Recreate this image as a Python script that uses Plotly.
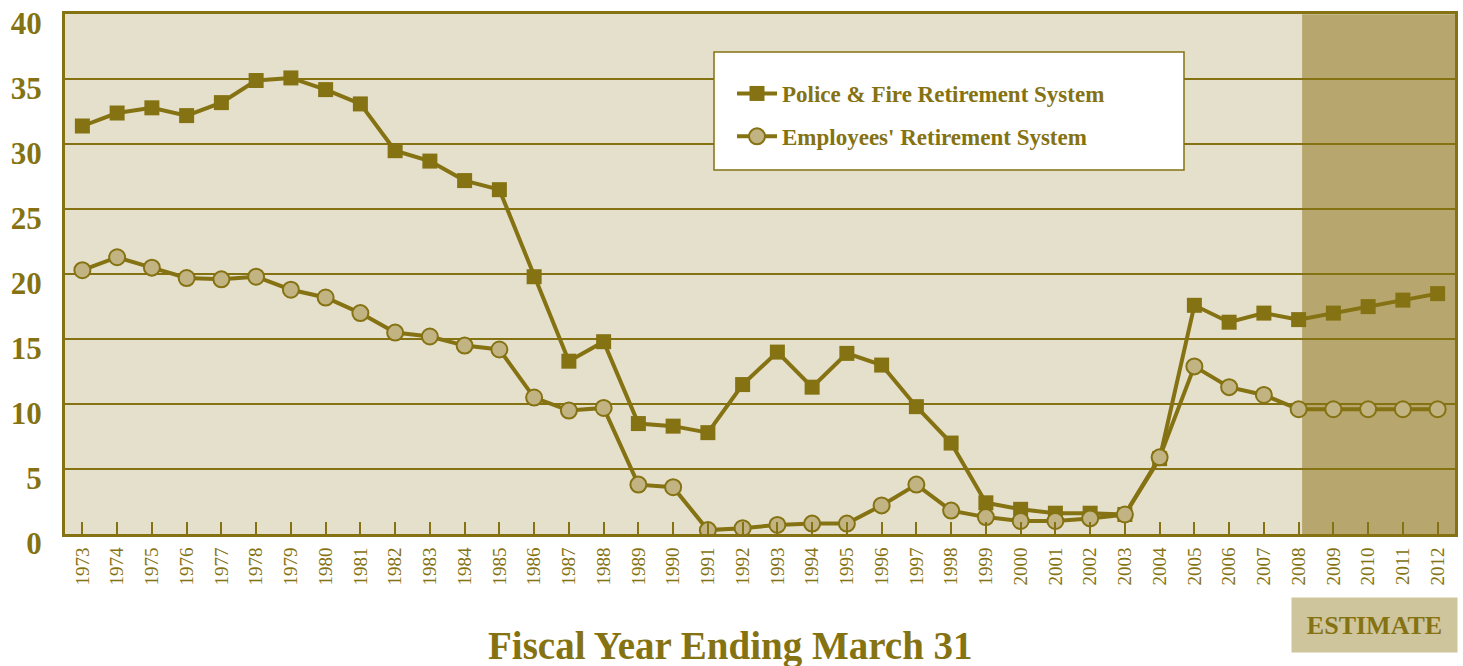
import plotly.graph_objects as go

years = list(range(1973, 2013))
police_fire = [31.4, 32.4, 32.8, 32.2, 33.2, 34.9, 35.1, 34.2, 33.1, 29.5,
               28.7, 27.2, 26.5, 19.8, 13.3, 14.8, 8.5, 8.3, 7.8, 11.5,
               14.0, 11.3, 13.9, 13.0, 9.8, 7.0, 2.4, 1.9, 1.6, 1.6,
               1.5, 5.8, 17.6, 16.3, 17.0, 16.5, 17.0, 17.5, 18.0, 18.5]
employees = [20.3, 21.3, 20.5, 19.7, 19.6, 19.8, 18.8, 18.2, 17.0, 15.5,
             15.2, 14.5, 14.2, 10.5, 9.5, 9.7, 3.8, 3.6, 0.3, 0.45,
             0.7, 0.8, 0.8, 2.2, 3.8, 1.8, 1.3, 1.0, 1.0, 1.2,
             1.5, 5.9, 12.9, 11.3, 10.7, 9.6, 9.6, 9.6, 9.6, 9.6]
y_ticks = [0, 5, 10, 15, 20, 25, 30, 35, 40]
estimate_start = 2008.1

OLIVE = "rgb(133,114,18)"
PLOT_BG = "rgb(229,224,203)"
SHADE = "rgb(183,167,110)"
CIRCLE = "rgb(194,180,130)"
EST_BOX = "rgb(207,197,157)"
FONT = "Liberation Serif"

fig = go.Figure()
fig.add_trace(go.Scatter(
    x=years, y=police_fire, mode="lines+markers",
    name="<b>Police & Fire Retirement System</b>", legendgroup="a",
    line=dict(color=OLIVE, width=4),
    marker=dict(symbol="square", size=15, color=OLIVE),
))
fig.add_trace(go.Scatter(
    x=years, y=employees, mode="lines+markers",
    name="<b>Employees' Retirement System</b>", legendgroup="b",
    line=dict(color=OLIVE, width=4),
    marker=dict(symbol="circle", size=16, color=CIRCLE, line=dict(color=OLIVE, width=2)),
))

fig.add_shape(type="rect", xref="x", yref="y", x0=estimate_start, x1=2012.5, y0=0, y1=40,
              fillcolor=SHADE, line=dict(width=0), layer="below")

# legend frame
fig.add_shape(type="rect", xref="paper", yref="paper",
              x0=(714 - 65) / 1390, x1=(1184 - 65) / 1390,
              y0=(534 - 170) / 520, y1=(534 - 52) / 520,
              fillcolor="white", line=dict(color=OLIVE, width=1.5), layer="above")

fig.add_annotation(text="<b>Fiscal Year Ending March 31</b>", xref="paper", yref="paper",
                   x=(730 - 65) / 1390, y=-(646 - 534) / 520, showarrow=False,
                   xanchor="center", yanchor="middle",
                   font=dict(family=FONT, size=39, color=OLIVE))
fig.add_annotation(text="<b>ESTIMATE</b>", xref="paper", yref="paper",
                   x=(1374 - 65) / 1390, y=-(625 - 534) / 520, showarrow=False,
                   xanchor="center", yanchor="middle",
                   font=dict(family=FONT, size=26, color=OLIVE),
                   bgcolor=EST_BOX, width=163, height=52)

fig.update_layout(
    width=1463, height=666,
    margin=dict(l=65, r=8, t=14, b=132, autoexpand=False),
    paper_bgcolor="white", plot_bgcolor=PLOT_BG,
    font=dict(family=FONT, color=OLIVE),
    showlegend=True,
    legend=dict(
        x=(732 - 65) / 1390, y=(534 - 72) / 520, xanchor="left", yanchor="top",
        bgcolor="rgba(0,0,0,0)", borderwidth=0,
        font=dict(family=FONT, size=23, color=OLIVE),
        traceorder="grouped", tracegroupgap=10, itemwidth=40,
    ),
    xaxis=dict(
        range=[1972.5, 2012.5], tickmode="array", tickvals=years,
        ticktext=[str(y) for y in years], tickangle=-90,
        ticks="inside", ticklen=12, tickwidth=2, tickcolor=OLIVE,
        tickfont=dict(family=FONT, size=19, color=OLIVE),
        ticklabelstandoff=3,
        showgrid=False, zeroline=False,
        showline=True, linecolor=OLIVE, linewidth=3, mirror=True,
    ),
    yaxis=dict(
        range=[0, 40.02], tickmode="array", tickvals=y_ticks,
        ticktext=["<b>%d</b>" % v for v in y_ticks],
        ticks="", showgrid=True, gridcolor=OLIVE, gridwidth=2,
        tickfont=dict(family=FONT, size=31, color=OLIVE),
        zeroline=False, showline=True, linecolor=OLIVE, linewidth=3, mirror=True,
        ticklabelstandoff=14, ticklabelshift=9, ticklabeloverflow="allow",
    ),
)

fig.write_html("out.html", config={"displayModeBar": False},
               post_script="document.body.style.margin='0';document.body.style.overflow='hidden';")
